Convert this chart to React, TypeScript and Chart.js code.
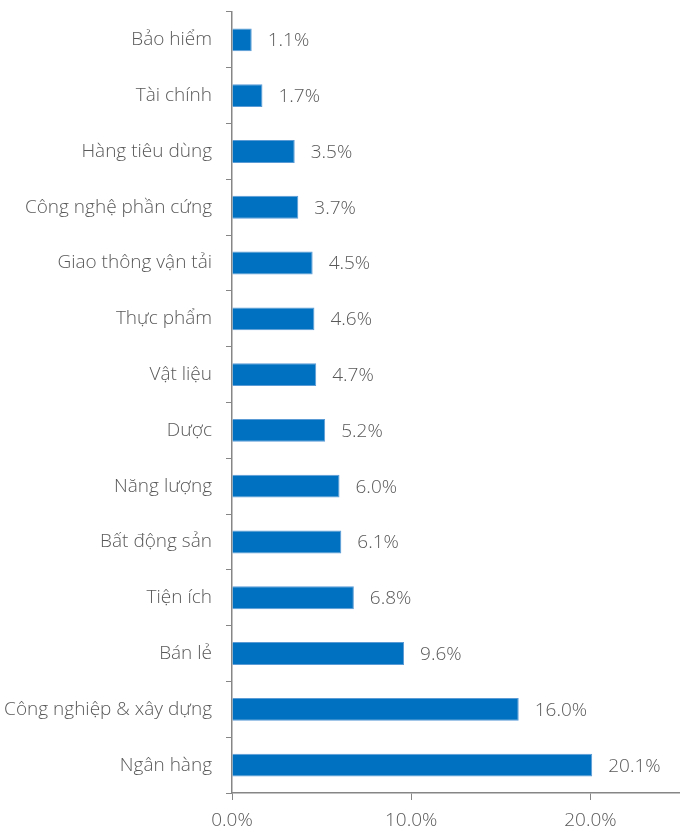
import React, { useEffect, useRef } from "react";
import { Chart, registerables } from "chart.js";

Chart.register(...registerables);

const categories = [
  "Bảo hiểm",
  "Tài chính",
  "Hàng tiêu dùng",
  "Công nghệ phần cứng",
  "Giao thông vận tải",
  "Thực phẩm",
  "Vật liệu",
  "Dược",
  "Năng lượng",
  "Bất động sản",
  "Tiện ích",
  "Bán lẻ",
  "Công nghiệp & xây dựng",
  "Ngân hàng",
];
const values = [1.1, 1.7, 3.5, 3.7, 4.5, 4.6, 4.7, 5.2, 6.0, 6.1, 6.8, 9.6, 16.0, 20.1];
const xTicks = [0, 10, 20];

const FONT = "'Open Sans', 'DejaVu Sans', sans-serif";
const TEXT = "#595959";
const AXIS = "#868686";
const SIZE = 19;

const valueLabels = {
  id: "valueLabels",
  afterDatasetsDraw(chart: any) {
    const ctx = chart.ctx;
    const meta = chart.getDatasetMeta(0);
    ctx.save();
    ctx.font = `300 ${SIZE}px ${FONT}`;
    ctx.fillStyle = TEXT;
    ctx.textAlign = "left";
    ctx.textBaseline = "middle";
    meta.data.forEach((bar: any, i: number) => {
      ctx.fillText(values[i].toFixed(1) + "%", bar.x + 16, bar.y + 1);
    });
    ctx.restore();
  },
};

export default function App() {
  const ref = useRef<HTMLCanvasElement>(null);
  useEffect(() => {
    document.body.style.margin = "0";
    const chart = new Chart(ref.current!, {
      type: "bar",
      data: {
        labels: categories,
        datasets: [
          {
            data: values,
            backgroundColor: "#0070C0",
            borderColor: "#5B9BD5",
            borderWidth: 1,
            barPercentage: 0.41,
            categoryPercentage: 1,
          },
        ],
      },
      options: {
        indexAxis: "y",
        animation: false,
        responsive: false,
        maintainAspectRatio: false,
        layout: { padding: { top: 12, right: 0, left: 0, bottom: 0 } },
        plugins: { legend: { display: false }, tooltip: { enabled: false } },
        scales: {
          x: {
            min: 0,
            max: 25,
            afterBuildTicks: (scale: any) => {
              scale.ticks = xTicks.map((v) => ({ value: v }));
            },
            afterFit: (scale: any) => {
              scale.height = 36;
              scale.paddingLeft = 0;
              scale.paddingRight = 0;
            },
            grid: { drawOnChartArea: false, drawTicks: true, tickLength: 7, color: AXIS, lineWidth: 1 },
            border: { color: AXIS, width: 1.5 },
            ticks: {
              color: TEXT,
              font: { family: FONT, size: SIZE, weight: 300 as any },
              padding: 9,
              callback: (v: any) => Number(v).toFixed(1) + "%",
            },
          },
          y: {
            afterFit: (scale: any) => {
              scale.width = 232;
              scale.paddingTop = 0;
              scale.paddingBottom = 0;
            },
            grid: { drawOnChartArea: false, drawTicks: true, tickLength: 6, offset: true, color: AXIS, lineWidth: 1 },
            border: { color: AXIS, width: 1.5 },
            ticks: {
              color: TEXT,
              font: { family: FONT, size: SIZE, weight: 300 as any },
              padding: 14,
            },
          },
        },
      },
      plugins: [valueLabels],
    });
    return () => chart.destroy();
  }, []);
  return (
    <div style={{ width: 680, height: 829 }}>
      <canvas ref={ref} width={680} height={829} style={{ display: "block" }} />
    </div>
  );
}
